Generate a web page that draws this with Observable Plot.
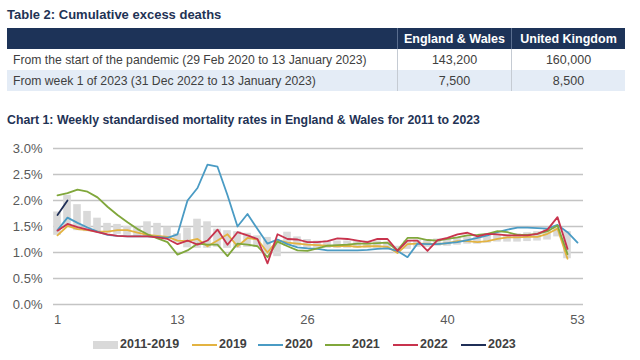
<!DOCTYPE html>
<html>
<head>
<meta charset="utf-8">
<script src="https://cdn.jsdelivr.net/npm/d3@7"></script>
<script src="https://cdn.jsdelivr.net/npm/@observablehq/plot@0.6"></script>
<style>
  html, body { margin: 0; padding: 0; background: #fff; }
  body { width: 640px; height: 360px; position: relative; overflow: hidden; font-family: "Liberation Sans", Arial, sans-serif; }
  .title { position: absolute; left: 7px; font-weight: bold; font-size: 13px; color: #1f3355; white-space: nowrap; }
  table { position: absolute; left: 7px; top: 28px; border-collapse: collapse; font-size: 12.5px; color: #404040; }
  th { background: #1d3358; color: #fff; font-weight: bold; height: 21px; padding: 0; text-align: center; }
  td { height: 21px; padding: 0; text-align: center; }
  td.lab { text-align: left; padding-left: 6px; font-size: 12.2px; }
  th + th, td + td { border-left: 1px solid #c5cbd3; }
  th + th { border-left: 1px solid #5a6e8f; }
  tr.alt td { background: #e4ecf6; }
  #legend { position: absolute; left: 0; top: 336px; width: 640px; font-size: 12.5px; font-weight: bold; color: #404040; }
  .item { position: absolute; top: 0; height: 16px; line-height: 16px; white-space: nowrap; }
  .sw { display: inline-block; width: 25px; vertical-align: middle; margin-right: 2px; }
  #chart { position: absolute; left: 0; top: 135px; }
</style>
</head>
<body>
<div class="title" style="top:7px">Table 2: Cumulative excess deaths</div>
<table>
  <tr><th style="width:390px"></th><th style="width:113px">England &amp; Wales</th><th style="width:113px">United Kingdom</th></tr>
  <tr><td class="lab">From the start of the pandemic (29 Feb 2020 to 13 January 2023)</td><td>143,200</td><td>160,000</td></tr>
  <tr class="alt"><td class="lab">From week 1 of 2023 (31 Dec 2022 to 13 January 2023)</td><td>7,500</td><td>8,500</td></tr>
</table>
<div class="title" style="top:113px; font-size:12.3px">Chart 1: Weekly standardised mortality rates in England &amp; Wales for 2011 to 2023</div>
<div id="chart"></div>
<div id="legend"></div>
<script>
const seriesNames = ["2019", "2020", "2021", "2022", "2023"];
const seriesColors = ["#e3b341", "#4a9bc4", "#80a73b", "#c8334d", "#1f2f57"];
const xTicks = [1, 13, 26, 40, 53];
const yTicks = [0, 0.5, 1, 1.5, 2, 2.5, 3];

// 2011-2019 range (min / max) per week, %
const rangeLo = [1.33,1.48,1.42,1.40,1.38,1.37,1.35,1.33,1.31,1.30,1.29,1.26,1.18,1.09,1.08,1.08,1.10,1.08,1.08,1.10,1.10,0.96,0.92,1.12,1.12,1.08,1.08,1.08,1.08,1.08,1.08,1.08,1.08,1.08,0.98,1.06,1.10,1.10,1.12,1.12,1.14,1.16,1.16,1.18,1.20,1.20,1.20,1.21,1.22,1.24,1.30,0.88];
const rangeHi = [1.78,2.10,1.92,1.79,1.66,1.56,1.54,1.50,1.49,1.59,1.56,1.49,1.36,1.47,1.64,1.59,1.45,1.42,1.40,1.37,1.32,1.29,1.22,1.39,1.30,1.25,1.22,1.22,1.22,1.22,1.22,1.22,1.22,1.20,1.12,1.22,1.24,1.24,1.26,1.27,1.28,1.30,1.30,1.32,1.34,1.34,1.36,1.38,1.40,1.44,1.50,1.40];

const y2019 = [1.33,1.51,1.45,1.43,1.40,1.40,1.43,1.43,1.38,1.34,1.32,1.30,1.23,1.22,1.26,1.12,1.23,1.35,1.12,1.28,1.25,1.00,1.24,1.19,1.17,1.15,1.14,1.13,1.12,1.13,1.11,1.12,1.12,1.11,0.99,1.16,1.17,1.17,1.16,1.18,1.22,1.22,1.20,1.22,1.26,1.29,1.29,1.30,1.30,1.36,1.46,0.88];
const y2020 = [1.43,1.67,1.57,1.48,1.40,1.34,1.32,1.31,1.31,1.31,1.30,1.28,1.35,2.00,2.24,2.69,2.65,2.10,1.50,1.74,1.45,1.17,1.25,1.16,1.10,1.08,1.07,1.04,1.04,1.04,1.04,1.05,1.07,1.08,1.03,0.91,1.17,1.16,1.16,1.18,1.20,1.24,1.28,1.33,1.39,1.44,1.48,1.48,1.47,1.46,1.53,1.39,1.19];
const y2021 = [2.10,2.14,2.21,2.17,2.06,1.88,1.72,1.58,1.45,1.35,1.27,1.20,0.96,1.04,1.17,1.15,1.15,0.93,1.17,1.15,1.12,0.91,1.21,1.12,1.04,1.03,1.08,1.13,1.14,1.15,1.17,1.17,1.18,1.19,1.04,1.28,1.28,1.24,1.23,1.26,1.29,1.33,1.34,1.36,1.41,1.39,1.34,1.34,1.36,1.41,1.52,0.97];
const y2022 = [1.42,1.55,1.49,1.44,1.39,1.35,1.32,1.31,1.31,1.31,1.29,1.26,1.16,1.23,1.15,1.23,1.44,1.15,1.39,1.33,1.26,0.79,1.35,1.26,1.25,1.20,1.20,1.22,1.27,1.26,1.23,1.20,1.26,1.26,1.03,1.23,1.23,1.03,1.24,1.28,1.35,1.38,1.31,1.36,1.35,1.33,1.33,1.33,1.36,1.44,1.68,1.07];
const y2023 = [1.72,2.00];

const seriesValues = [y2019, y2020, y2021, y2022, y2023];

const bars = rangeLo.map((lo, i) => ({week: i + 1, lo, hi: rangeHi[i]}));
const lines = seriesNames.flatMap((s, k) => seriesValues[k].map((v, i) => ({series: s, week: i + 1, v})));

const chart = Plot.plot({
  width: 640,
  height: 225,
  marginLeft: 53,
  marginRight: 57,
  marginTop: 13,
  marginBottom: 56,
  insetLeft: 4,
  insetRight: 6,
  style: {fontFamily: "'Liberation Sans', Arial, sans-serif", fontSize: "13px", color: "#595959", background: "transparent"},
  x: {domain: [1, 53]},
  y: {domain: [0, 3]},
  color: {domain: seriesNames, range: seriesColors},
  marks: [
    Plot.ruleY(yTicks, {stroke: "#c4c4c4", strokeWidth: 1.4}),
    Plot.rectY(bars, {x1: d => d.week - 0.38, x2: d => d.week + 0.38, y1: "lo", y2: "hi", fill: "#d9d9d9"}),
    Plot.line(lines, {x: "week", y: "v", z: "series", stroke: "series", strokeWidth: 1.8}),
    Plot.axisY({ticks: yTicks, tickSize: 0, tickPadding: 11, tickFormat: d => d.toFixed(1) + "%", label: null}),
    Plot.axisX({ticks: xTicks, tickSize: 0, tickPadding: 10, tickFormat: d => String(d), label: null})
  ]
});
document.getElementById("chart").appendChild(chart);

// legend
const legendItems = [
  {name: "2011-2019", color: "#d9d9d9", bar: true, left: 93},
  ...seriesNames.map((s, i) => ({name: s, color: seriesColors[i], bar: false, left: [192, 258, 325, 393, 461][i]}))
];
const legend = document.getElementById("legend");
legendItems.forEach(it => {
  const el = document.createElement("div");
  el.className = "item";
  el.style.left = it.left + "px";
  const sw = document.createElement("span");
  sw.className = "sw";
  sw.style.height = it.bar ? "8px" : "2px";
  sw.style.background = it.color;
  el.appendChild(sw);
  el.appendChild(document.createTextNode(it.name));
  legend.appendChild(el);
});
</script>
</body>
</html>
